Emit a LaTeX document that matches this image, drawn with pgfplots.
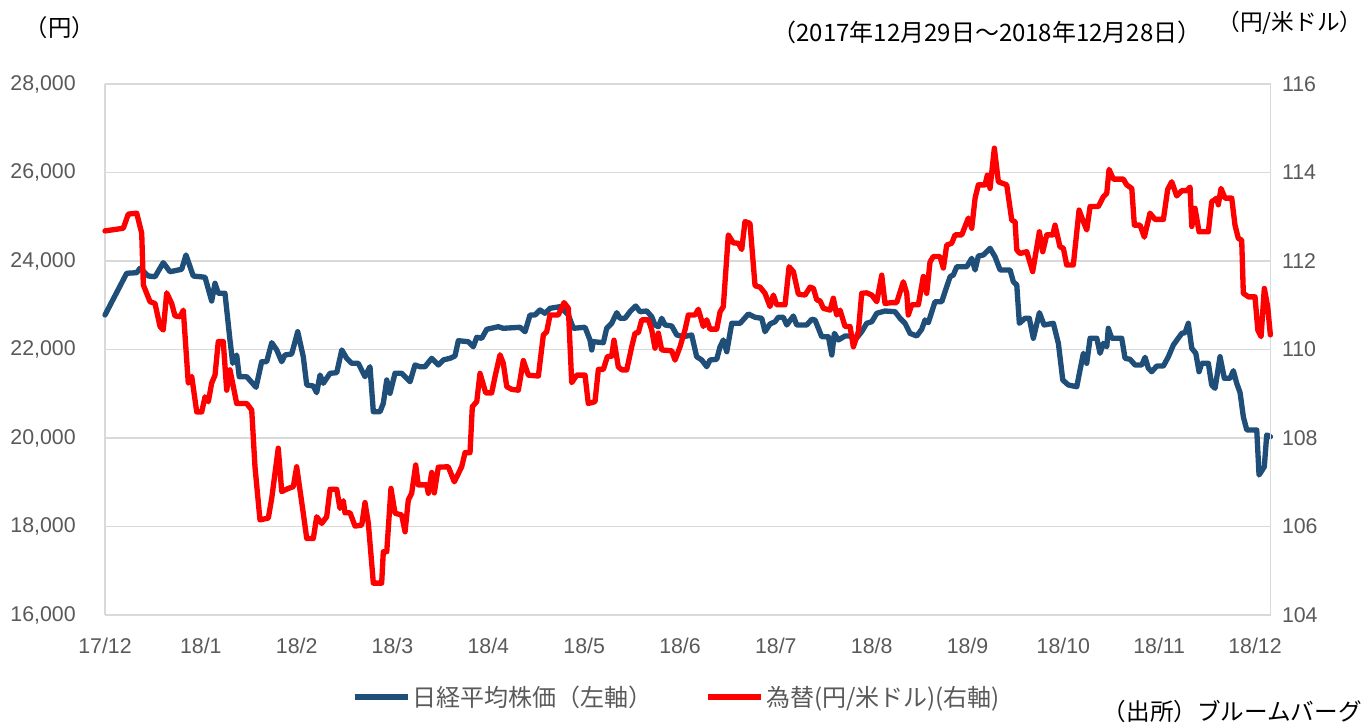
\documentclass[border=0pt]{standalone}
\usepackage{pgfplots}
\pgfplotsset{compat=1.18}
\usepackage{pgfplotstable}
\usepackage{fontspec}
\setmainfont{Liberation Sans}
\newfontfamily\cjk{Noto Sans CJK JP}
\definecolor{nikkei}{RGB}{31,78,121}
\definecolor{fx}{RGB}{255,0,0}
\definecolor{gridgray}{RGB}{217,217,217}
\definecolor{labgray}{RGB}{89,89,89}

\pgfplotstableread{
x y
0 22780
0.226 23722
0.331 23736
0.365 23835
0.452 23661
0.522 23645
0.608 23962
0.678 23758
0.800 23812
0.845 24136
0.921 23661
1.044 23632
1.113 23096
1.148 23496
1.182 23270
1.252 23270
1.304 22215
1.333 21688
1.374 21876
1.401 21385
1.479 21385
1.576 21146
1.635 21724
1.687 21724
1.740 22154
1.792 21989
1.844 21724
1.878 21876
1.948 21898
2.011 22402
2.069 21837
2.105 21198
2.174 21175
2.209 21024
2.244 21424
2.278 21236
2.348 21462
2.418 21476
2.471 21989
2.522 21801
2.574 21688
2.643 21688
2.713 21385
2.765 21611
2.800 20594
2.870 20594
2.904 20784
2.940 21311
2.974 21010
3.026 21462
3.096 21462
3.183 21272
3.235 21650
3.287 21611
3.339 21611
3.409 21801
3.478 21650
3.530 21763
3.600 21801
3.652 21853
3.687 22199
3.791 22176
3.843 22063
3.879 22276
3.931 22253
3.983 22456
4.104 22515
4.156 22479
4.331 22502
4.383 22402
4.435 22780
4.487 22780
4.539 22893
4.591 22818
4.644 22931
4.748 22967
4.782 22893
4.835 22780
4.887 22479
5.009 22502
5.061 22215
5.079 21989
5.095 22176
5.200 22154
5.235 22479
5.287 22592
5.340 22832
5.374 22705
5.426 22705
5.478 22854
5.538 22983
5.583 22854
5.653 22870
5.705 22741
5.739 22554
5.774 22515
5.809 22705
5.844 22554
5.914 22531
5.966 22328
6.035 22289
6.122 22328
6.174 21837
6.227 21763
6.279 21611
6.313 21763
6.383 21778
6.418 22063
6.452 22215
6.488 21950
6.540 22592
6.627 22592
6.713 22802
6.783 22728
6.853 22705
6.887 22402
6.939 22576
6.991 22628
7.026 22728
7.078 22728
7.114 22554
7.183 22757
7.218 22554
7.322 22554
7.375 22682
7.409 22667
7.444 22479
7.479 22289
7.548 22289
7.584 21876
7.611 22366
7.652 22215
7.722 22305
7.774 22305
7.826 22215
7.896 22402
7.948 22592
8.001 22628
8.053 22818
8.139 22870
8.244 22854
8.296 22705
8.348 22592
8.400 22366
8.470 22305
8.522 22456
8.557 22667
8.591 22606
8.661 23080
8.731 23080
8.818 23645
8.852 23684
8.888 23871
8.992 23871
9.044 24061
9.079 23797
9.113 24113
9.165 24136
9.235 24287
9.287 24097
9.340 23797
9.444 23797
9.478 23532
9.514 23458
9.541 22592
9.600 22705
9.645 22705
9.687 22253
9.750 22832
9.799 22554
9.896 22592
9.948 22140
9.994 21311
10.052 21198
10.140 21159
10.174 21537
10.209 21914
10.244 21688
10.279 22253
10.349 22253
10.383 21914
10.417 22140
10.453 22063
10.469 22479
10.505 22253
10.609 22253
10.644 21801
10.696 21778
10.748 21650
10.818 21650
10.853 21824
10.887 21575
10.922 21498
10.975 21627
11.044 21627
11.096 21837
11.148 22102
11.236 22366
11.270 22380
11.304 22592
11.340 22027
11.382 21914
11.416 21498
11.444 21688
11.513 21688
11.548 21198
11.583 21123
11.635 21837
11.680 21349
11.739 21349
11.774 21521
11.809 21236
11.844 21024
11.878 20481
11.914 20181
12.018 20181
12.042 19164
12.097 19351
12.122 20068
12.160 20029
}\nikkeidata

\pgfplotstableread{
x y
0 112.68
0.191 112.74
0.243 113.06
0.331 113.08
0.383 112.63
0.400 111.46
0.470 111.08
0.522 111.04
0.574 110.52
0.608 110.44
0.644 111.28
0.696 111.04
0.730 110.76
0.783 110.74
0.817 110.89
0.869 109.24
0.905 109.39
0.957 108.59
1.009 108.59
1.044 108.93
1.078 108.82
1.113 109.24
1.148 109.42
1.182 110.18
1.234 110.18
1.270 109.08
1.304 109.54
1.374 108.78
1.479 108.78
1.531 108.63
1.565 107.35
1.617 106.15
1.704 106.19
1.740 106.64
1.808 107.77
1.844 106.79
1.913 106.86
1.965 106.90
2.000 107.35
2.069 106.30
2.105 105.73
2.174 105.73
2.209 106.22
2.261 106.07
2.313 106.22
2.348 106.84
2.418 106.84
2.452 106.41
2.487 106.58
2.504 106.31
2.557 106.31
2.609 106.01
2.679 106.03
2.713 106.54
2.748 106.07
2.800 104.72
2.887 104.72
2.904 105.43
2.940 105.43
2.984 106.86
3.026 106.30
3.096 106.26
3.131 105.88
3.165 106.60
3.200 106.75
3.242 107.39
3.269 106.94
3.357 106.94
3.374 106.75
3.409 107.22
3.436 106.76
3.478 107.34
3.582 107.35
3.645 107.01
3.722 107.35
3.757 107.67
3.809 107.67
3.833 108.71
3.879 108.82
3.913 109.46
3.973 109.02
4.035 109.02
4.070 109.39
4.122 109.88
4.156 109.69
4.192 109.16
4.244 109.10
4.313 109.08
4.365 109.75
4.417 109.42
4.522 109.40
4.574 110.33
4.609 110.40
4.644 110.78
4.730 110.78
4.790 111.06
4.835 110.93
4.870 109.25
4.922 109.42
5.009 109.42
5.043 108.78
5.113 108.82
5.148 109.55
5.200 109.55
5.242 109.84
5.287 109.85
5.311 110.21
5.356 109.61
5.392 109.54
5.444 109.54
5.496 110.06
5.531 110.37
5.565 110.38
5.601 110.67
5.670 110.67
5.705 110.44
5.739 110.03
5.774 110.37
5.809 109.99
5.914 109.97
5.948 109.76
6.000 110.06
6.052 110.44
6.087 110.78
6.157 110.78
6.191 110.91
6.243 110.52
6.279 110.67
6.313 110.46
6.383 110.46
6.418 110.85
6.452 110.97
6.504 112.59
6.556 112.41
6.609 112.40
6.644 112.26
6.678 112.89
6.730 112.85
6.783 111.44
6.835 111.41
6.887 111.27
6.939 110.97
6.974 111.23
7.009 111.01
7.096 111.01
7.138 111.87
7.183 111.76
7.235 111.25
7.305 111.23
7.357 111.41
7.392 111.38
7.427 111.12
7.461 111.10
7.496 110.93
7.566 110.89
7.600 111.16
7.635 110.78
7.670 110.89
7.722 110.52
7.774 110.52
7.809 110.06
7.861 110.40
7.896 111.27
7.948 111.28
8.001 111.23
8.053 111.08
8.105 111.68
8.139 111.04
8.209 111.06
8.261 111.06
8.330 111.53
8.366 111.27
8.382 110.78
8.418 111.01
8.487 111.01
8.539 111.65
8.574 111.27
8.609 111.98
8.643 112.10
8.713 112.10
8.748 111.84
8.783 112.36
8.835 112.40
8.870 112.59
8.940 112.59
8.974 112.78
9.009 112.97
9.044 112.74
9.079 113.42
9.113 113.72
9.183 113.72
9.207 113.94
9.235 113.64
9.280 114.55
9.322 113.79
9.409 113.72
9.462 112.92
9.496 112.89
9.514 112.25
9.548 112.17
9.618 112.21
9.680 111.76
9.750 112.66
9.785 112.21
9.827 112.59
9.889 112.59
9.913 112.81
9.965 112.32
10.000 112.29
10.035 111.91
10.104 111.91
10.164 113.15
10.209 112.89
10.244 112.70
10.279 113.23
10.365 113.23
10.417 113.45
10.453 113.53
10.477 114.07
10.522 113.85
10.626 113.85
10.661 113.72
10.714 113.64
10.741 112.81
10.800 112.81
10.845 112.54
10.904 113.08
10.957 112.94
11.044 112.94
11.089 113.62
11.131 113.79
11.183 113.47
11.236 113.59
11.288 113.59
11.322 113.67
11.340 112.78
11.374 113.19
11.416 112.66
11.513 112.66
11.548 113.34
11.600 113.42
11.617 113.27
11.645 113.64
11.687 113.42
11.757 113.42
11.791 112.81
11.826 112.51
11.861 112.47
11.878 111.27
11.931 111.19
12.000 111.19
12.029 110.44
12.063 110.29
12.097 111.38
12.132 110.97
12.160 110.33
}\fxdata

\pgfplotsset{
  common/.style={
    at={(0pt,0pt)}, anchor=south west,
    scale only axis, width=874.3pt, height=398.25pt,
    xmin=0, xmax=12.164,
    major tick length=0pt,
    scaled y ticks=false,
    tick label style={font=\fontsize{16}{19}\selectfont, text=labgray},
    /pgf/number format/1000 sep={,},
    /pgf/number format/assume math mode=true,
    clip=false,
  }
}

\begin{document}
\begin{tikzpicture}
\path[use as bounding box] (-78.75pt,-81.75pt) rectangle (946.5pt,461.25pt);
\begin{axis}[common,
  ymin=16000, ymax=28000,
  ytick={16000,18000,...,28000},
  axis y line*=left, axis x line*=bottom,
  x axis line style={draw=none},
  y axis line style={draw=gridgray, line width=1.1pt, -},
  ymajorgrids, grid style={gridgray, line width=1.1pt},
  xtick={0,...,12},
  xticklabels={17/12,18/1,18/2,18/3,18/4,18/5,18/6,18/7,18/8,18/9,18/10,18/11,18/12},
  xticklabel style={anchor=north, inner sep=0pt, yshift=-17pt},
  yticklabel style={anchor=east, inner sep=0pt, xshift=-21.75pt},
]
\addplot[nikkei, line width=4pt, line join=round, line cap=round] table {\nikkeidata};
\end{axis}
\begin{axis}[common,
  ymin=104, ymax=116,
  ytick={104,106,...,116},
  axis y line*=right, axis x line=none,
  y axis line style={draw=gridgray, line width=1.1pt, -},
  yticklabel style={anchor=west, inner sep=0pt, xshift=8.25pt},
  legend style={at={(0.4907,-0.1544)}, anchor=center, draw=none, fill=none,
    legend columns=2, font=\cjk\fontsize{18}{21}\selectfont, text=labgray,
    nodes={inner sep=1.5pt},
    /tikz/every even column/.append style={column sep=38pt}},
  legend cell align=left,
  legend image code/.code={\draw[#1, line cap=butt] (0pt,0pt) -- (40pt,0pt);},
]
\addlegendimage{nikkei, line width=4pt}
\addlegendentry{日経平均株価（左軸）}
\addplot[fx, line width=4pt, line join=round, line cap=round] table {\fxdata};
\addlegendentry{為替(円/米ドル)(右軸)}
\end{axis}
\node[font=\cjk\fontsize{17.5}{20}\selectfont] at (-33.75pt,440.25pt) {（円）};
\node[font=\cjk\fontsize{18}{21}\selectfont] at (661.5pt,437.25pt) {（2017年12月29日～2018年12月28日）};
\node[font=\cjk\fontsize{17}{20}\selectfont] at (888.75pt,444pt) {（円/米ドル）};
\node[font=\cjk\fontsize{17.7}{20}\selectfont, anchor=east, inner sep=0pt] at (942.75pt,-72.75pt) {（出所）ブルームバーグ};
\end{tikzpicture}
\end{document}
